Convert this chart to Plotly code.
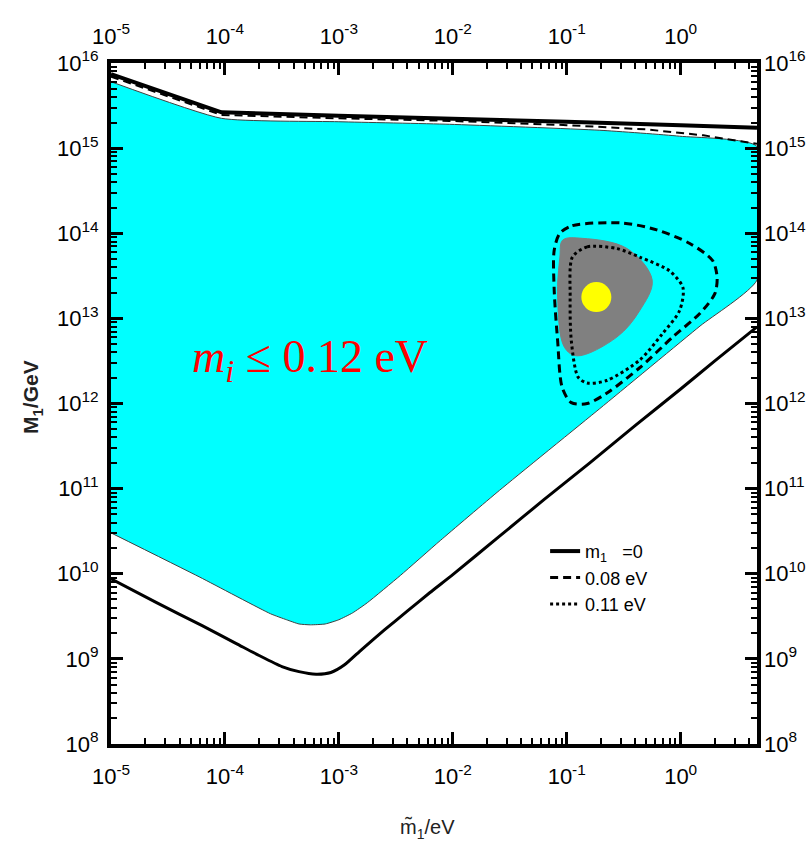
import numpy as np
import plotly.graph_objects as go

# ---------------- data (log10 of m~1/eV and log10 of M1/GeV) ----------------
# upper solid boundary (m1 = 0)
upper_solid_lx = [-5.0, -4.03, -3.0, -2.03, -1.0, 0.0, 0.67]
upper_solid_ly = [15.87, 15.42, 15.38, 15.35, 15.31, 15.27, 15.24]

# upper dashed boundary (0.08 eV), running just under the solid one
upper_dash_lx = [-5.0, -4.03, -3.0, -2.03, -1.0, -0.3, 0.2, 0.67]
upper_dash_ly = [15.84, 15.39, 15.35, 15.32, 15.27, 15.22, 15.15, 15.05]

# lower solid boundary (m1 = 0)
lower_solid_lx = [-5.0, -4.6, -4.2, -3.9, -3.7, -3.5, -3.35, -3.2, -3.07, -2.95, -2.8, -2.6, -2.4,
                  -2.2, -2.0, -1.6, -1.2, -0.8, -0.4, 0.0, 0.3, 0.67]
lower_solid_ly = [9.94, 9.66, 9.39, 9.18, 9.04, 8.91, 8.85, 8.82, 8.84, 8.93, 9.11, 9.34, 9.56,
                  9.78, 9.99, 10.43, 10.87, 11.30, 11.74, 12.17, 12.50, 12.90]

# cyan allowed region (m_i <= 0.12 eV): top edge left->right, bottom edge left->right
cyan_top_lx = [-5.0, -4.03, -3.0, -2.03, -0.71, -0.01, 0.67]
cyan_top_ly = [15.78, 15.35, 15.31, 15.28, 15.21, 15.14, 15.02]
cyan_bot_lx = [-5.0, -4.22, -3.6, -3.46, -3.35, -3.25, -3.12, -3.0, -2.88, -2.75, -2.46, -2.11, -1.59, -0.71, 0.17, 0.67]
cyan_bot_ly = [10.48, 9.96, 9.53, 9.46, 9.41, 9.40, 9.41, 9.46, 9.54, 9.66, 9.98, 10.39, 10.98, 11.94, 12.91, 13.45]

# grey island
grey_lx = [-1.035, -0.86, -0.47, -0.25, -0.36, -0.56, -0.91, -1.02, -1.08, -1.06, -1.035]
grey_ly = [13.92, 13.94, 13.82, 13.45, 13.09, 12.78, 12.56, 12.66, 13.25, 13.72, 13.92]

# dashed closed contour (0.08 eV)
c008_lx = [-1.06, -0.95, -0.51, -0.21, 0.08, 0.28, 0.32, 0.30, 0.17, -0.07, -0.36, -0.65, -0.82, -0.96, -1.04, -1.08, -1.11, -1.11, -1.06]
c008_ly = [14.00, 14.09, 14.12, 14.04, 13.88, 13.68, 13.48, 13.29, 13.06, 12.78, 12.42, 12.12, 12.00, 12.01, 12.19, 12.74, 13.33, 13.80, 14.00]

# dotted closed contour (0.11 eV)
c011_lx = [-0.95, -0.82, -0.56, -0.36, -0.10, 0.02, -0.01, -0.16, -0.36, -0.65, -0.82, -0.90, -0.96, -0.97, -0.95]
c011_ly = [13.72, 13.84, 13.82, 13.72, 13.56, 13.36, 13.09, 12.82, 12.51, 12.27, 12.24, 12.31, 12.74, 13.25, 13.72]

# best-fit point (yellow)
best_lx = [-0.74]
best_ly = [13.25]

# axes
x_range_log = [-5.0, 0.67]
y_range_log = [8.0, 16.0]
x_tick_exp = [-5, -4, -3, -2, -1, 0]
y_tick_exp = [8, 9, 10, 11, 12, 13, 14, 15, 16]

legend_names = ["m<sub>1</sub>&nbsp;&nbsp;&nbsp;=0", "0.08 eV", "0.11 eV"]

# ---------------- figure ----------------
def p(v):
    return (10.0 ** np.array(v, dtype=float)).tolist()

FONT = "Liberation Sans, Arial, sans-serif"

fig = go.Figure()

# cyan region
fig.add_trace(go.Scatter(
    x=p(cyan_top_lx + cyan_bot_lx[::-1]), y=p(cyan_top_ly + cyan_bot_ly[::-1]),
    mode="lines", fill="toself", fillcolor="#00ffff",
    line=dict(color="#404040", width=1, shape="spline", smoothing=0.5),
    showlegend=False, hoverinfo="skip"))

# grey island
fig.add_trace(go.Scatter(
    x=p(grey_lx), y=p(grey_ly), mode="lines", fill="toself", fillcolor="#808080",
    line=dict(color="#808080", width=1, shape="spline", smoothing=1.0),
    showlegend=False, hoverinfo="skip"))

# yellow best point
fig.add_trace(go.Scatter(
    x=p(best_lx), y=p(best_ly), mode="markers",
    marker=dict(size=30, color="#ffff00", line=dict(width=0)),
    showlegend=False, hoverinfo="skip"))

# solid lines (m1 = 0)
fig.add_trace(go.Scatter(
    x=p(upper_solid_lx), y=p(upper_solid_ly), mode="lines",
    line=dict(color="black", width=4), name=legend_names[0], legendrank=1))
fig.add_trace(go.Scatter(
    x=p(lower_solid_lx), y=p(lower_solid_ly), mode="lines",
    line=dict(color="black", width=3, shape="spline", smoothing=0.6),
    showlegend=False, hoverinfo="skip"))

# dashed (0.08 eV)
fig.add_trace(go.Scatter(
    x=p(c008_lx), y=p(c008_ly), mode="lines",
    line=dict(color="black", width=3, dash="8px,5px", shape="spline", smoothing=0.8),
    name=legend_names[1], legendrank=2))
fig.add_trace(go.Scatter(
    x=p(upper_dash_lx), y=p(upper_dash_ly), mode="lines",
    line=dict(color="black", width=2, dash="8px,5px"),
    showlegend=False, hoverinfo="skip"))

# dotted (0.11 eV)
fig.add_trace(go.Scatter(
    x=p(c011_lx), y=p(c011_ly), mode="lines",
    line=dict(color="black", width=3, dash="3px,3px", shape="spline", smoothing=0.8),
    name=legend_names[2], legendrank=3))

# helper trace for the top/right label axes
fig.add_trace(go.Scatter(x=p([x_range_log[0]]), y=p([y_range_log[0]]), xaxis="x2", yaxis="y2",
                         mode="markers", marker=dict(opacity=0), showlegend=False, hoverinfo="skip"))

x_tickvals = p(x_tick_exp)
x_ticktext = ["10<sup>%d</sup>" % e for e in x_tick_exp]
y_tickvals = p(y_tick_exp)
y_ticktext = ["10<sup>%d</sup>" % e for e in y_tick_exp]

x_minor = [m * 10.0 ** k for k in range(x_tick_exp[0], x_tick_exp[-1] + 1) for m in range(2, 10)
           if np.log10(m * 10.0 ** k) < x_range_log[1]]
y_minor = [m * 10.0 ** k for k in range(y_tick_exp[0], y_tick_exp[-1]) for m in range(2, 10)]

tickfont = dict(family=FONT, size=22, color="black")
minor_common = dict(ticks="inside", ticklen=6, tickwidth=2, tickcolor="black", showgrid=False)

fig.update_layout(
    width=807, height=848,
    margin=dict(l=111, r=50, t=63, b=104, autoexpand=False),
    paper_bgcolor="white", plot_bgcolor="white",
    xaxis=dict(type="log", range=x_range_log, showline=True, linewidth=4, linecolor="black",
               mirror="allticks", ticks="inside", ticklen=12, tickwidth=3, tickcolor="black",
               tickmode="array", tickvals=x_tickvals, ticktext=x_ticktext, tickfont=tickfont,
               showgrid=False, zeroline=False, ticklabelstandoff=10, automargin=False,
               minor=dict(tickmode="array", tickvals=x_minor, **minor_common)),
    yaxis=dict(type="log", range=y_range_log, showline=True, linewidth=4, linecolor="black",
               mirror="allticks", ticks="inside", ticklen=12, tickwidth=3, tickcolor="black",
               tickmode="array", tickvals=y_tickvals, ticktext=y_ticktext, tickfont=tickfont,
               showgrid=False, zeroline=False, ticklabelstandoff=4, automargin=False,
               minor=dict(tickmode="array", tickvals=y_minor, **minor_common)),
    xaxis2=dict(type="log", range=x_range_log, overlaying="x", side="top", anchor="y2",
                tickmode="array", tickvals=x_tickvals, ticktext=x_ticktext, tickfont=tickfont,
                ticks="", showline=False, showgrid=False, zeroline=False, ticklabelstandoff=14,
                automargin=False),
    yaxis2=dict(type="log", range=y_range_log, overlaying="y", side="right", anchor="x2",
                tickmode="array", tickvals=y_tickvals, ticktext=y_ticktext, tickfont=tickfont,
                ticks="", showline=False, showgrid=False, zeroline=False, ticklabelstandoff=6,
                automargin=False),
    legend=dict(x=0.672, y=0.31, xanchor="left", yanchor="top", bgcolor="rgba(0,0,0,0)",
                font=dict(family=FONT, size=18, color="black"), tracegroupgap=0),
    showlegend=True,
)

fig.add_annotation(text="<i>m</i><sub><i>i</i></sub> ≤ 0.12 eV", xref="paper", yref="paper",
                   x=0.308, y=0.564, xanchor="center", yanchor="middle", showarrow=False,
                   font=dict(family="Liberation Serif, DejaVu Serif, serif", size=46, color="#ff0000"))
fig.add_annotation(text="<b>M<sub>1</sub>/GeV</b>", xref="paper", yref="paper",
                   x=-0.122, y=0.51, xanchor="center", yanchor="middle", textangle=-90,
                   showarrow=False, font=dict(family=FONT, size=21, color="#222222"))
fig.add_annotation(text="m\u0303<sub>1</sub>/eV", xref="paper", yref="paper",
                   x=0.49, y=-0.125, xanchor="center", yanchor="middle",
                   showarrow=False, font=dict(family=FONT, size=20, color="#222222"))

fig.write_html("out.html")
